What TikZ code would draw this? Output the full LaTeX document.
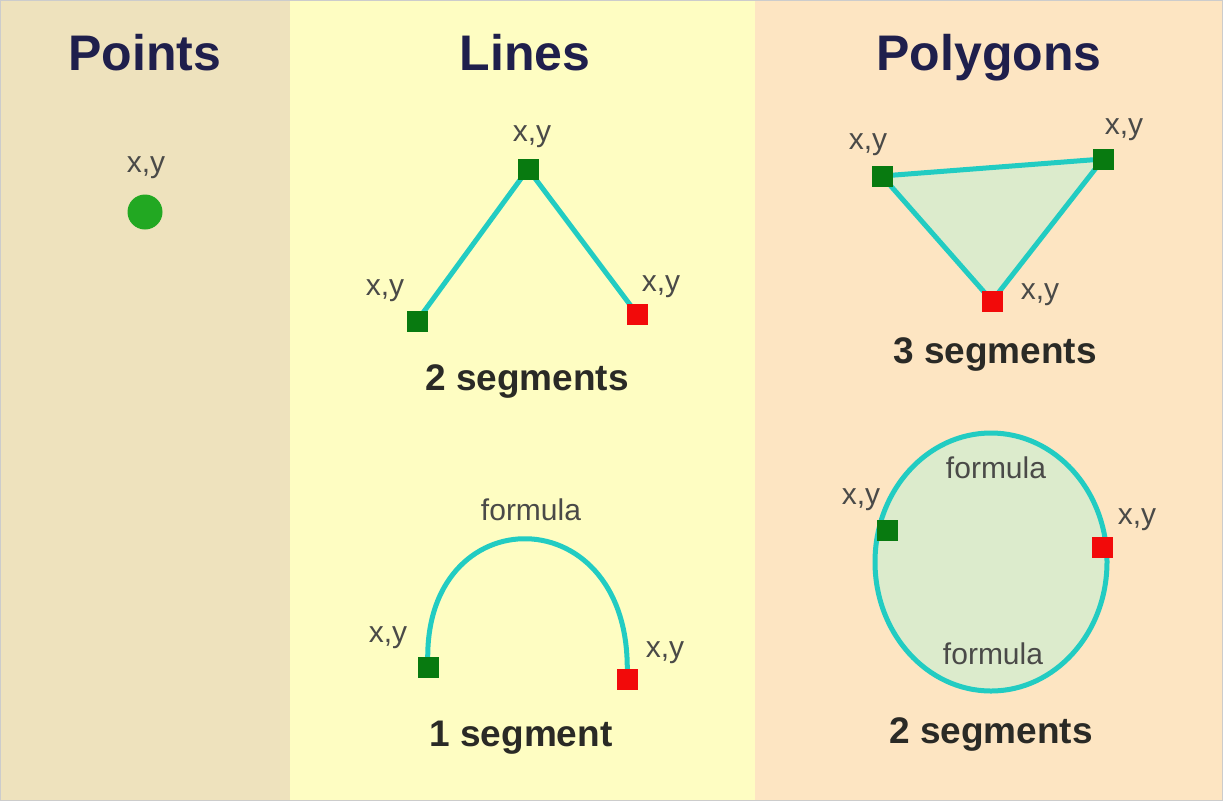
\documentclass[tikz,border=0pt]{standalone}
\usepackage{fontspec}
\setmainfont{Liberation Sans}
\usetikzlibrary{shapes.geometric}
\definecolor{pointsbg}{HTML}{EEE2BD}
\definecolor{linesbg}{HTML}{FEFDC2}
\definecolor{polybg}{HTML}{FDE5C2}
\definecolor{titlecol}{HTML}{1F1F4C}
\definecolor{labelcol}{HTML}{4A4A48}
\definecolor{capcol}{HTML}{2A2A26}
\definecolor{cyanline}{HTML}{22CCC2}
\definecolor{vgreen}{HTML}{087A10}
\definecolor{vred}{HTML}{F20A0A}
\definecolor{dotgreen}{HTML}{22A822}
\definecolor{polyfill}{HTML}{DCEBCC}
\pgfdeclarelayer{bg}
\pgfdeclarelayer{lines}
\pgfsetlayers{bg,lines,main}
\tikzset{
  title/.style={text=titlecol,font=\fontsize{50}{58}\selectfont\bfseries,inner sep=0pt,anchor=base},
  lbl/.style={text=labelcol,font=\fontsize{30}{34}\selectfont,inner sep=0pt},
  capt/.style={text=capcol,font=\fontsize{37}{42}\selectfont\bfseries,inner sep=0pt,anchor=base},
  gsq/.style={rectangle,fill=vgreen,minimum size=21pt,inner sep=0pt},
  rsq/.style={rectangle,fill=vred,minimum size=21pt,inner sep=0pt},
  seg/.style={draw=cyanline,line width=5pt,line join=round},
  polyshape/.style={seg,fill=polyfill},
}
\begin{document}
\begin{tikzpicture}[x=1pt,y=-1pt]
\useasboundingbox (0,0) rectangle (1223,801);
\begin{pgfonlayer}{bg}
  \fill[pointsbg] (0,0) rectangle (290,801);
  \fill[linesbg] (290,0) rectangle (755,801);
  \fill[polybg] (755,0) rectangle (1223,801);
  \draw[gray!40,line width=1pt] (0.5,0.5) rectangle (1222.5,800.5);
\end{pgfonlayer}

% titles
\node[title] (tp) at (145,70) {Points};
\node[title] (tl) at (525,70) {Lines};
\node[title] (tg) at (989,70) {Polygons};

% points
\node[lbl] (pl) at (146,168) {x,y};
\node[circle,fill=dotgreen,minimum size=35pt,inner sep=0pt] (pt) at (145,212) {};

% lines: two segments
\node[gsq] (a1) at (417,321) {};
\node[gsq] (a2) at (528,169) {};
\node[rsq] (a3) at (637,314) {};
\begin{pgfonlayer}{lines}
  \draw[seg] (a1.center) -- (a2.center) -- (a3.center);
\end{pgfonlayer}
\node[lbl] (la1) at (385,291) {x,y};
\node[lbl] (la2) at (532,137) {x,y};
\node[lbl] (la3) at (661,287) {x,y};
\node[capt] (c1) at (527,390) {2 segments};

% lines: one segment arc
\node[gsq] (b1) at (428,667) {};
\node[rsq] (b2) at (627,679) {};
\begin{pgfonlayer}{lines}
  \draw[seg] (b1.center) .. controls (419,494) and (636,494) .. (b2.center);
\end{pgfonlayer}
\node[lbl] (lf1) at (531,510) {formula};
\node[lbl] (lb1) at (388,638) {x,y};
\node[lbl] (lb2) at (665,653) {x,y};
\node[capt] (c2) at (521,746) {1 segment};

% polygons: triangle
\node[gsq] (t1) at (882,176) {};
\node[gsq] (t2) at (1103,159) {};
\node[rsq] (t3) at (992,301) {};
\begin{pgfonlayer}{lines}
  \draw[polyshape] (t1.center) -- (t2.center) -- (t3.center) -- cycle;
\end{pgfonlayer}
\node[lbl] (lt1) at (868,145) {x,y};
\node[lbl] (lt2) at (1124,130) {x,y};
\node[lbl] (lt3) at (1040,295) {x,y};
\node[capt] (c3) at (995,363) {3 segments};

% polygons: circle
\begin{pgfonlayer}{lines}
  \node[ellipse,polyshape,minimum width=232pt,minimum height=258pt,inner sep=0pt] (el) at (991,562) {};
\end{pgfonlayer}
\node[gsq] (e1) at (887,530) {};
\node[rsq] (e2) at (1102,547) {};
\node[lbl] (lf2) at (996,468) {formula};
\node[lbl] (lf3) at (993,654) {formula};
\node[lbl] (le1) at (861,500) {x,y};
\node[lbl] (le2) at (1137,520) {x,y};
\node[capt] (c4) at (991,743) {2 segments};
\end{tikzpicture}
\end{document}
